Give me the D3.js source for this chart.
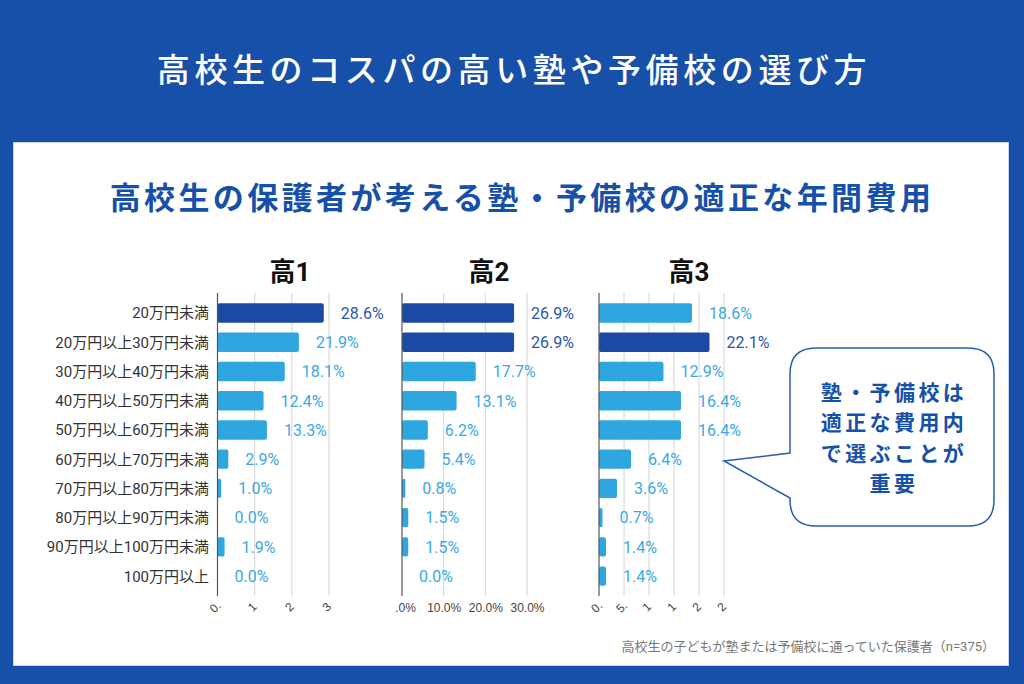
<!DOCTYPE html>
<html><head><meta charset="utf-8">
<script src="https://cdn.jsdelivr.net/npm/d3@7"></script>
<style>
html,body{margin:0;padding:0;background:#1750a8;}
svg{display:block;}
</style></head>
<body>
<svg id="chart" width="1024" height="684"></svg>
<script>
// ---- data ----
const categories = ["20万円未満","20万円以上30万円未満","30万円以上40万円未満","40万円以上50万円未満","50万円以上60万円未満","60万円以上70万円未満","70万円以上80万円未満","80万円以上90万円未満","90万円以上100万円未満","100万円以上"];
const grade1 = [28.6,21.9,18.1,12.4,13.3,2.9,1.0,0.0,1.9,0.0];
const grade2 = [26.9,26.9,17.7,13.1,6.2,5.4,0.8,1.5,1.5,0.0];
const grade3 = [18.6,22.1,12.9,16.4,16.4,6.4,3.6,0.7,1.4,1.4];
const highlight1 = [0];
const highlight2 = [0,1];
const highlight3 = [1];
const panelTitles = ["高1","高2","高3"];
const ticks1 = [0,10,20,30];
const tickLabels1 = ["0.","1","2","3"];
const ticks2 = [0,10,20,30];
const tickLabels2 = [".0%","10.0%","20.0%","30.0%"];
const ticks3 = [0,5,10,15,20,25];
const tickLabels3 = ["0.","5.","1","1","2","2"];
const mainTitle = "高校生のコスパの高い塾や予備校の選び方";
const subTitle = "高校生の保護者が考える塾・予備校の適正な年間費用";
const calloutLines = ["塾・予備校は","適正な費用内","で選ぶことが","重要"];
const footnote = "高校生の子どもが塾または予備校に通っていた保護者（n=375）";

const BLUE = "#1750a8", DARK = "#1a4aa4", LIGHT = "#2ea6e0";
const DARKTXT = "#2a56ad", LIGHTTXT = "#39a9e4";
const CJK = "'Noto Sans CJK JP', sans-serif";
const NUM = "Roboto, 'Noto Sans CJK JP', sans-serif";

const svg = d3.select("#chart");
svg.append("rect").attr("width",1024).attr("height",684).attr("fill",BLUE);
svg.append("rect").attr("x",13.5).attr("y",142.5).attr("width",995).attr("height",523)
  .attr("fill","#fff").attr("stroke","#c9d5ec").attr("stroke-width",1);

svg.append("text").attr("x",514).attr("y",82).attr("text-anchor","middle")
  .attr("fill","#fff").style("font-family",CJK).style("font-size","33px").style("font-weight",500)
  .style("letter-spacing","4.6px").text(mainTitle);

svg.append("text").attr("x",522).attr("y",209).attr("text-anchor","middle")
  .attr("fill",BLUE).style("font-family",CJK).style("font-size","31px").style("font-weight",700)
  .style("letter-spacing","3.4px").text(subTitle);

const y = d3.scaleBand().domain(categories).range([298.4,590.8]).paddingInner(0.34).paddingOuter(0.17);
const gridTop = 293, gridBot = 596;

const panels = [
  {vals:grade1, hl:highlight1, x:d3.scaleLinear().domain([0,30]).range([217.5,329]), ticks:ticks1, labels:tickLabels1, rot:true, title:panelTitles[0], tx:290},
  {vals:grade2, hl:highlight2, x:d3.scaleLinear().domain([0,30]).range([402,527]), ticks:ticks2, labels:tickLabels2, rot:false, title:panelTitles[1], tx:489},
  {vals:grade3, hl:highlight3, x:d3.scaleLinear().domain([0,25]).range([599,724]), ticks:ticks3, labels:tickLabels3, rot:true, title:panelTitles[2], tx:689}
];

// category labels
svg.append("g").selectAll("text").data(categories).join("text")
  .attr("x",209).attr("y",d=>y(d)+y.bandwidth()/2).attr("dy","0.36em")
  .attr("text-anchor","end").attr("fill","#333")
  .style("font-family",NUM).style("font-size","15px").text(d=>d);

panels.forEach(p=>{
  const g = svg.append("g");
  g.selectAll("line.grid").data(p.ticks.slice(1)).join("line")
    .attr("x1",d=>p.x(d)).attr("x2",d=>p.x(d)).attr("y1",gridTop).attr("y2",gridBot)
    .attr("stroke","#d4d4d4").attr("stroke-width",1);
  const ax = d3.axisBottom(p.x).tickValues(p.ticks).tickSize(0).tickPadding(0)
    .tickFormat((d,i)=>p.labels[i]);
  const axg = g.append("g").attr("transform",`translate(0,${gridBot})`).call(ax);
  axg.select(".domain").remove();
  axg.selectAll("text").attr("fill","#444").style("font-family","Arial, 'Liberation Sans', sans-serif").style("font-size","12px");
  if(p.rot){
    axg.selectAll("text").attr("y",0).attr("dy",0)
      .attr("transform","translate(0,14) rotate(-45)").attr("text-anchor","middle");
  } else {
    axg.selectAll("text").attr("y",12).attr("dy","0.32em")
      .attr("dx",(d,i)=> i===0 ? 3 : 0);
  }
  g.selectAll("rect.bar").data(p.vals).join("rect")
    .attr("x",p.x(0)).attr("y",(d,i)=>y(categories[i]))
    .attr("width",d=>Math.max(0,p.x(d)-p.x(0))).attr("height",y.bandwidth())
    .attr("rx",2).attr("fill",(d,i)=>p.hl.includes(i)?DARK:LIGHT);
  g.append("line").attr("x1",p.x(0)).attr("x2",p.x(0)).attr("y1",gridTop).attr("y2",gridBot)
    .attr("stroke","#555").attr("stroke-width",1.2);
  g.selectAll("text.val").data(p.vals).join("text")
    .attr("x",d=>p.x(d)+17).attr("y",(d,i)=>y(categories[i])+y.bandwidth()/2).attr("dy","0.36em")
    .attr("fill",(d,i)=>p.hl.includes(i)?DARKTXT:LIGHTTXT)
    .style("font-family",NUM).style("font-size","16px").text(d=>d.toFixed(1)+"%");
  svg.append("text").attr("x",p.tx).attr("y",281).attr("text-anchor","middle")
    .attr("fill","#111").style("font-family",NUM).style("font-size","26px").style("font-weight",700)
    .text(p.title);
});

// callout
const cx0=790, cx1=994, cy0=348, cy1=526, r=26;
const path = `M${cx0+r},${cy0} H${cx1-r} Q${cx1},${cy0} ${cx1},${cy0+r} V${cy1-r} Q${cx1},${cy1} ${cx1-r},${cy1} H${cx0+r} Q${cx0},${cy1} ${cx0},${cy1-r} V498 L724,461 L${cx0},453 V${cy0+r} Q${cx0},${cy0} ${cx0+r},${cy0} Z`;
svg.append("path").attr("d",path).attr("fill","#fff").attr("stroke","#2a5db0").attr("stroke-width",1.5);
svg.append("g").selectAll("text").data(calloutLines).join("text")
  .attr("x",894).attr("y",(d,i)=>392+i*30.5).attr("dy","0.36em").attr("text-anchor","middle")
  .attr("fill",BLUE).style("font-family",CJK).style("font-size","21px").style("font-weight",700)
  .style("letter-spacing","3.4px").text(d=>d);

// footnote
svg.append("text").attr("x",995).attr("y",646).attr("dy","0.36em").attr("text-anchor","end")
  .attr("fill","#777").style("font-family",NUM).style("font-size","13px").text(footnote);
</script>
</body></html>
